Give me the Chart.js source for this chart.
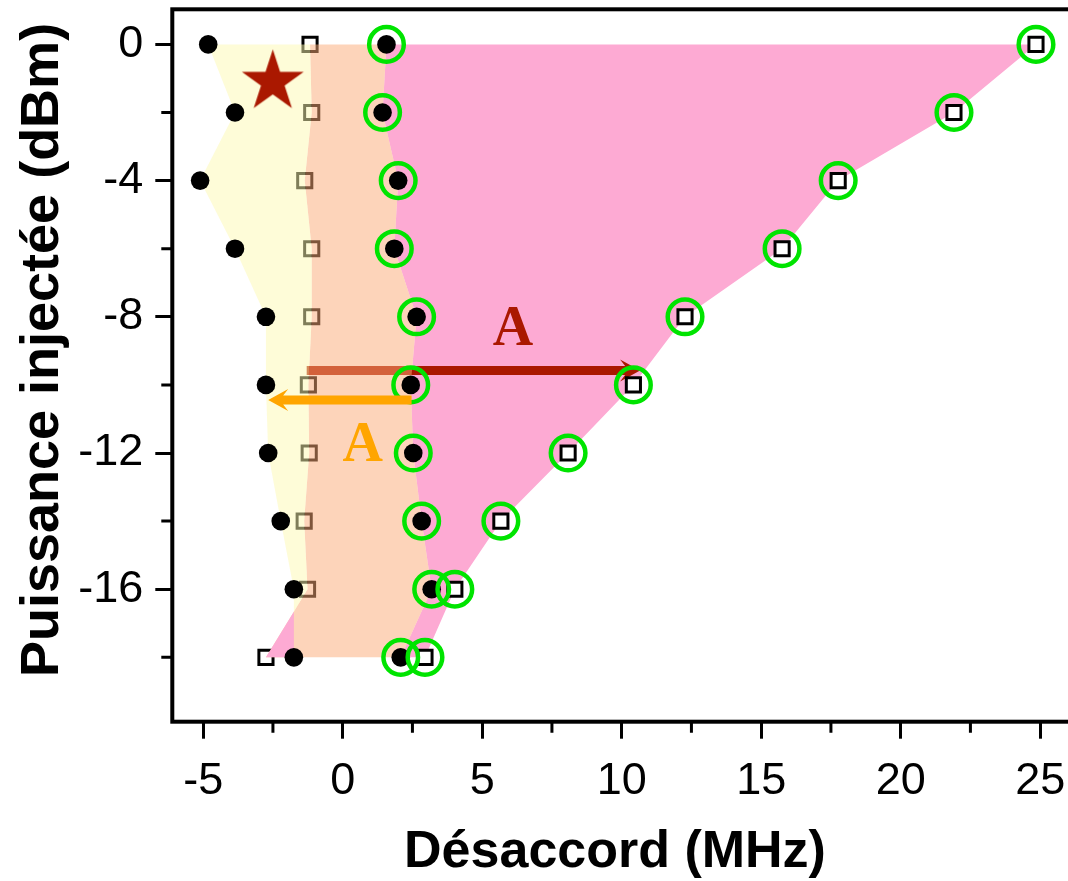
<!DOCTYPE html>
<html>
<head>
<meta charset="utf-8">
<script src="https://cdn.jsdelivr.net/npm/chart.js@4.4.1/dist/chart.umd.min.js"></script>
<style>
  html, body { margin: 0; padding: 0; background: #ffffff; overflow: hidden; }
  #cadre { width: 1068px; height: 881px; overflow: hidden; position: relative; }
  canvas { display: block; }
</style>
</head>
<body>
<div id="cadre"><canvas id="graphe" width="1077" height="881"></canvas></div>
<script>
// Niveaux de puissance injectée (dBm)
const puissance = [0, -2, -4, -6, -8, -10, -12, -14, -16, -18];
// Désaccord (MHz) des différentes limites, une valeur par niveau de puissance
const limiteGauche  = [-4.82, -3.86, -5.11, -3.86, -2.75, -2.75, -2.67, -2.22, -1.75, -1.75]; // points noirs
const carresGauche  = [-1.17, -1.11, -1.36, -1.11, -1.11, -1.23, -1.20, -1.38, -1.26, -2.75]; // carrés
const limiteCentre  = [1.57, 1.43, 1.99, 1.85, 2.65, 2.44, 2.53, 2.83, 3.19, 2.08];            // points cerclés
const carresDroite  = [24.85, 21.91, 17.76, 15.75, 12.27, 10.42, 8.08, 5.67, 4.02, 2.95];        // carrés cerclés
// Point de fonctionnement (étoile)
const etoile = [{ x: -2.505, y: -1.10 }];
// Flèches : origine puis pointe
const flecheRouge  = [{ x: -1.29, y: -9.58 }, { x: 10.66, y: -9.58 }];
const flecheOrange = [{ x: 2.47, y: -10.44 }, { x: -2.67, y: -10.44 }];
// Étiquettes "A" (position de la ligne de base)
const etiquettes = [
  { texte: 'A', x: 6.10, y: -8.83, couleur: '#aa1800' },
  { texte: 'A', x: 0.72, y: -12.24, couleur: '#ffa500' }
];
// Graduations
const ticksX = [-5, 0, 5, 10, 15, 20, 25];
const ticksY = [0, -4, -8, -12, -16];
// Titres des axes
const titreX = 'Désaccord (MHz)';
const titreY = 'Puissance injectée (dBm)';

const ROUGE = '#aa1800', ORANGE = '#ffa500', VERT = '#00e400';
const ROSE = '#fdaad3';
const JAUNE = 'rgba(253,249,177,0.5)';
const PECHE = 'rgba(251,169,117,0.5)';
const POLICE = '"Liberation Sans", Arial, sans-serif';

const points = xs => xs.map((x, i) => ({ x, y: puissance[i] }));
const bande = (g, d) => [...points(g), ...points(d).reverse()];

// Découpe la bande entre deux limites aux croisements : zones où g < d et zones où g > d
function zones(g, d) {
  const res = [];
  let cur = null, signe = 0;
  for (let i = 0; i < puissance.length; i++) {
    const s = Math.sign(d[i] - g[i]) || signe || 1;
    if (cur && s !== signe) {
      const a = d[i - 1] - g[i - 1], b = d[i] - g[i];
      const t = a / (a - b);
      const p = { x: g[i - 1] + t * (g[i] - g[i - 1]), y: puissance[i - 1] + t * (puissance[i] - puissance[i - 1]) };
      cur.L.push(p); cur.R.push(p);
      res.push(cur);
      cur = { s, L: [p], R: [p] };
    }
    if (!cur) cur = { s, L: [], R: [] };
    cur.L.push({ x: g[i], y: puissance[i] });
    cur.R.push({ x: d[i], y: puissance[i] });
    signe = s;
  }
  res.push(cur);
  const joindre = arr => arr.reduce((acc, z, k) => acc.concat(k ? [null] : [], [...z.L, ...z.R.slice().reverse()]), []);
  return { directe: joindre(res.filter(z => z.s > 0)), inverse: joindre(res.filter(z => z.s < 0)) };
}
const zJaune = zones(limiteGauche, carresGauche);

function imageEtoile(R, couleur) {
  const c = document.createElement('canvas');
  c.width = c.height = Math.ceil(2 * R + 4);
  const g = c.getContext('2d');
  g.translate(c.width / 2, c.height / 2);
  g.beginPath();
  for (let k = 0; k < 10; k++) {
    const r = k % 2 ? R * 0.382 : R;
    const a = -Math.PI / 2 + k * Math.PI / 5;
    g.lineTo(r * Math.cos(a), r * Math.sin(a));
  }
  g.closePath();
  g.fillStyle = couleur;
  g.fill();
  return c;
}

const surface = (data, couleur, ordre) => ({
  type: 'line', data, fill: 'shape', backgroundColor: couleur, borderColor: 'rgba(0,0,0,0)',
  borderWidth: 0, pointRadius: 0, tension: 0, spanGaps: false, order: ordre
});

function dessinerFleche(chart, pts, couleur, ep) {
  const ctx = chart.ctx, sx = chart.scales.x, sy = chart.scales.y;
  const x0 = sx.getPixelForValue(pts[0].x), y0 = sy.getPixelForValue(pts[0].y);
  const x1 = sx.getPixelForValue(pts[1].x), y1 = sy.getPixelForValue(pts[1].y);
  const L = Math.hypot(x1 - x0, y1 - y0);
  ctx.save();
  ctx.translate(x1, y1);
  ctx.rotate(Math.atan2(y1 - y0, x1 - x0));
  ctx.fillStyle = couleur;
  ctx.beginPath();
  ctx.moveTo(0, 0);
  ctx.lineTo(-20, -11);
  ctx.lineTo(-15, -ep / 2);
  ctx.lineTo(-L, -ep / 2);
  ctx.lineTo(-L, ep / 2);
  ctx.lineTo(-15, ep / 2);
  ctx.lineTo(-20, 11);
  ctx.closePath();
  ctx.fill();
  ctx.restore();
}

const INDEX_CARRES_GAUCHE = 1;

const decor = {
  id: 'decor',
  afterDatasetDraw(chart, args) {
    if (args.index === INDEX_CARRES_GAUCHE) dessinerFleche(chart, flecheRouge, ROUGE, 9);
  },
  afterDatasetsDraw(chart) {
    const ctx = chart.ctx, sx = chart.scales.x, sy = chart.scales.y;
    dessinerFleche(chart, flecheOrange, ORANGE, 9);
    ctx.save();
    ctx.font = 'bold 56px "Liberation Serif", "Times New Roman", serif';
    ctx.textAlign = 'center';
    ctx.textBaseline = 'alphabetic';
    for (const e of etiquettes) {
      ctx.fillStyle = e.couleur;
      ctx.fillText(e.texte, sx.getPixelForValue(e.x), sy.getPixelForValue(e.y));
    }
    ctx.restore();
  },
  afterDraw(chart) {
    const ctx = chart.ctx, a = chart.chartArea;
    ctx.save();
    // graduations secondaires
    ctx.strokeStyle = '#000';
    ctx.lineWidth = 3;
    ctx.beginPath();
    for (const t of chart.scales.x.ticks) {
      if (ticksX.includes(t.value)) continue;
      const px = chart.scales.x.getPixelForValue(t.value);
      ctx.moveTo(px, a.bottom); ctx.lineTo(px, a.bottom + 11);
    }
    for (const t of chart.scales.y.ticks) {
      if (ticksY.includes(t.value)) continue;
      const py = chart.scales.y.getPixelForValue(t.value);
      ctx.moveTo(a.left, py); ctx.lineTo(a.left - 11, py);
    }
    ctx.stroke();
    // cadre
    ctx.lineWidth = 4;
    ctx.strokeRect(a.left, a.top, a.right - a.left, a.bottom - a.top);
    // titres des axes
    ctx.fillStyle = '#000';
    ctx.textAlign = 'center';
    ctx.textBaseline = 'middle';
    ctx.font = 'bold 52px ' + POLICE;
    ctx.fillText(titreX, 615, 853);
    ctx.translate(43, 350);
    ctx.rotate(-Math.PI / 2);
    ctx.font = 'bold 54px ' + POLICE;
    ctx.fillText(titreY, 0, 0);
    ctx.restore();
  }
};

// Taille fixe des axes, sans marge réservée aux étiquettes débordantes
const ajusterAxe = (dim, val) => s => {
  s[dim] = val;
  s.paddingTop = s.paddingBottom = s.paddingLeft = s.paddingRight = 0;
};

const cerclesVerts = [...points(limiteCentre), ...points(carresDroite)];

new Chart(document.getElementById('graphe'), {
  type: 'scatter',
  data: {
    datasets: [
      surface(bande(limiteCentre, carresDroite), ROSE, 10),
      { data: points(carresGauche), pointStyle: 'rect', pointRadius: 10, pointBorderWidth: 3,
        pointBorderColor: '#000', pointBackgroundColor: '#fff', order: 9 },
      surface(bande(carresGauche, limiteCentre), PECHE, 7),
      surface(zJaune.directe, JAUNE, 6),
      surface(zJaune.inverse, ROSE, 5),
      { data: points(limiteGauche), pointStyle: 'circle', pointRadius: 9.3, pointBorderWidth: 0,
        pointBackgroundColor: '#000', order: 4 },
      { data: points(limiteCentre), pointStyle: 'circle', pointRadius: 9.3, pointBorderWidth: 0,
        pointBackgroundColor: '#000', order: 4 },
      { data: points(carresDroite), pointStyle: 'rect', pointRadius: 10, pointBorderWidth: 3,
        pointBorderColor: '#000', pointBackgroundColor: '#fff', order: 4 },
      { data: cerclesVerts, pointStyle: 'circle', pointRadius: 17.3, pointBorderWidth: 4.5,
        pointBorderColor: VERT, pointBackgroundColor: 'rgba(0,0,0,0)', order: 3 },
      { data: etoile, pointStyle: imageEtoile(32.5, ROUGE), order: 2 }
    ]
  },
  options: {
    responsive: false,
    animation: false,
    events: [],
    layout: { autoPadding: false, padding: { top: 9.3, left: 0, right: 0, bottom: 0 } },
    plugins: { legend: { display: false }, tooltip: { enabled: false } },
    scales: {
      x: {
        type: 'linear', min: -6.107, max: 26.32,
        afterFit: ajusterAxe('height', 159.3),
        border: { display: false },
        grid: { drawOnChartArea: false, drawTicks: true, tickLength: 17, tickWidth: 3,
                tickColor: c => ticksX.includes(c.tick.value) ? '#000' : 'rgba(0,0,0,0)' },
        ticks: { stepSize: 2.5, includeBounds: false, padding: 16, color: '#000', maxRotation: 0, autoSkip: false,
                 font: { family: POLICE, size: 45 },
                 callback: v => ticksX.includes(v) ? String(v) : '' },
        title: { display: false }
      },
      y: {
        type: 'linear', min: -19.89, max: 1.03,
        afterFit: ajusterAxe('width', 172.3),
        border: { display: false },
        grid: { drawOnChartArea: false, drawTicks: true, tickLength: 17, tickWidth: 3,
                tickColor: c => ticksY.includes(c.tick.value) ? '#000' : 'rgba(0,0,0,0)' },
        ticks: { stepSize: 2, includeBounds: false, padding: 12, color: '#000', autoSkip: false,
                 font: { family: POLICE, size: 45 },
                 callback: v => ticksY.includes(v) ? String(v) : '' },
        title: { display: false }
      }
    }
  },
  plugins: [decor]
});
</script>
</body>
</html>
